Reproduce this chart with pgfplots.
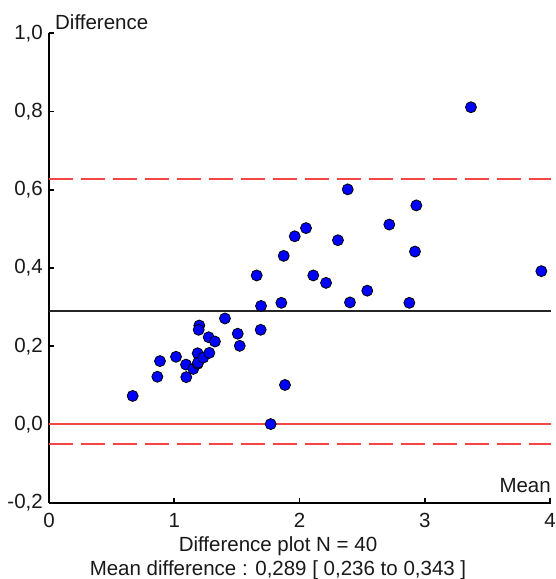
\documentclass[border=0pt]{standalone}
\usepackage{fontspec}
\setmainfont{Liberation Sans}
\usepackage{pgfplots}
\pgfplotsset{compat=1.18}
\definecolor{lred}{RGB}{245,70,70}
\definecolor{txt}{RGB}{25,25,25}
\pgfplotstableread{
x y
0.668 0.073
0.865 0.122
0.886 0.162
1.014 0.173
1.094 0.153
1.096 0.121
1.152 0.142
1.187 0.182
1.187 0.155
1.190 0.158
1.232 0.171
1.280 0.183
1.200 0.253
1.195 0.242
1.275 0.223
1.325 0.212
1.405 0.271
1.507 0.232
1.523 0.201
1.658 0.381
1.693 0.303
1.690 0.242
1.770 0.001
1.884 0.101
1.855 0.311
1.874 0.431
1.962 0.481
2.052 0.502
2.110 0.381
2.212 0.362
2.307 0.471
2.385 0.601
2.403 0.312
2.541 0.342
2.717 0.511
2.877 0.311
2.922 0.442
2.933 0.560
3.369 0.811
3.931 0.392
}\pts
\begin{document}
\fontsize{20.5}{24}\selectfont
\begin{tikzpicture}
\path[use as bounding box] (-49pt,-76.3pt) rectangle (507pt,502.7pt);
\begin{axis}[
  at={(0,0)}, anchor=south west,
  scale only axis, width=502pt, height=469.4pt,
  xmin=0, xmax=4.008, ymin=-0.2, ymax=1.0,
  axis x line*=bottom, axis y line*=left,
  axis line style={black, line width=1.7pt},
  xtick={0,1,2,3,4},
  ytick={-0.2,0,0.2,0.4,0.6,0.8,1.0},
  tick align=inside, major tick length=5pt,
  tick style={black, line width=1.7pt},
  /pgf/number format/assume math mode=true,
  yticklabel style={/pgf/number format/fixed, /pgf/number format/fixed zerofill, /pgf/number format/precision=1, /pgf/number format/use comma, inner sep=0pt, xshift=-6pt, text=txt},
  xticklabel style={inner sep=0pt, yshift=-10pt, text=txt},
  clip=false,
]
\addplot[draw=black!85, line width=2pt] coordinates {(0,0.289) (4.008,0.289)};
\addplot[draw=lred, line width=2pt] coordinates {(0,0) (4.008,0)};
\addplot[draw=lred, solid, line width=2pt, dash pattern=on 24pt off 8pt] coordinates {(0,0.627) (4.008,0.627)};
\addplot[draw=lred, solid, line width=2pt, dash pattern=on 24pt off 8pt] coordinates {(0,-0.049) (4.008,-0.049)};
\addplot[only marks, mark=*, mark size=5.5pt, mark options={fill=blue, draw=black, line width=0.8pt}] table[x=x, y=y] {\pts};
\node[anchor=base west, inner sep=0pt, text=txt, xshift=6pt, yshift=4pt] at (rel axis cs:0,1) {Difference};
\node[anchor=base east, inner sep=0pt, text=txt, yshift=10.5pt] at (rel axis cs:1,0) {Mean};
\end{axis}
\node[anchor=base, inner sep=0pt, text=txt] at (229pt,-49pt) {Difference plot N = 40};
\node[anchor=base, inner sep=0pt, text=txt] at (229pt,-72.3pt) {Mean difference : 0,289 [ 0,236 to 0,343 ]};
\end{tikzpicture}
\end{document}
